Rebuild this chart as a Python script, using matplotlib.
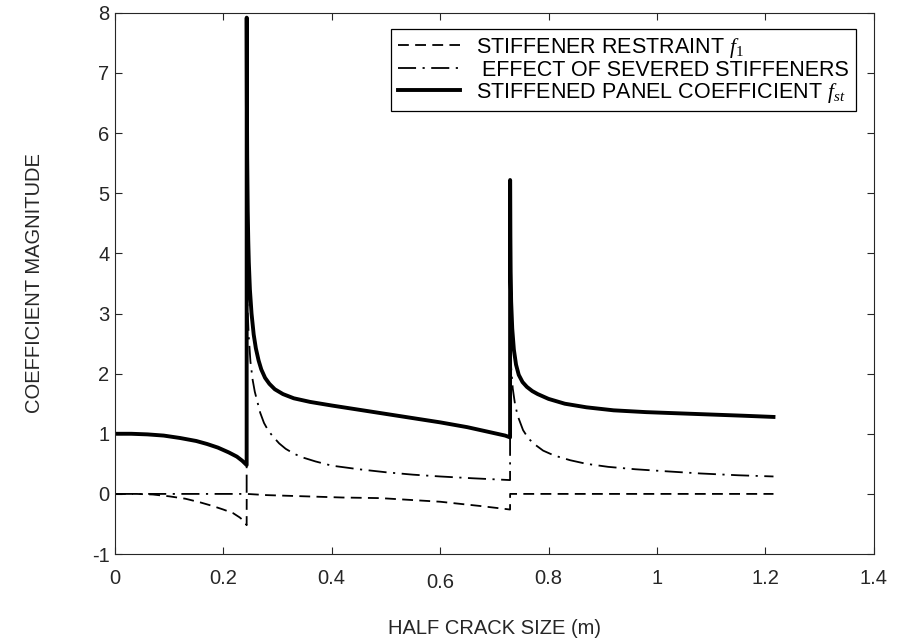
import matplotlib
matplotlib.use('Agg')
import matplotlib.pyplot as plt
import matplotlib.transforms as mtrans

plt.rcParams['font.family'] = ['Liberation Sans', 'DejaVu Sans']
plt.rcParams['mathtext.fontset'] = 'custom'
plt.rcParams['mathtext.it'] = 'Liberation Serif:italic'
plt.rcParams['mathtext.rm'] = 'Liberation Serif'
plt.rcParams['axes.unicode_minus'] = False

# stiffened panel coefficient f_st (solid)
x_st = [0, 0.03, 0.06, 0.09, 0.12, 0.15, 0.17, 0.19, 0.21, 0.225, 0.235, 0.243,
        0.2431, 0.2435, 0.244, 0.245, 0.246, 0.247, 0.249, 0.252, 0.256, 0.26,
        0.265, 0.27, 0.277, 0.285, 0.295, 0.31, 0.33, 0.36, 0.4, 0.45, 0.5,
        0.55, 0.6, 0.65, 0.69, 0.72, 0.729,
        0.7291, 0.7295, 0.730, 0.731, 0.733, 0.736, 0.74, 0.745, 0.752, 0.76,
        0.77, 0.78, 0.8, 0.83, 0.87, 0.92, 0.98, 1.04, 1.1, 1.16, 1.215]
y_st = [1.0, 1.0, 0.99, 0.97, 0.93, 0.88, 0.83, 0.77, 0.69, 0.62, 0.55, 0.48,
        7.92, 6.5, 5.6, 4.7, 4.2, 3.85, 3.4, 3.0, 2.65, 2.42,
        2.22, 2.07, 1.93, 1.83, 1.74, 1.66, 1.59, 1.53, 1.47, 1.40, 1.33,
        1.26, 1.19, 1.11, 1.03, 0.97, 0.94,
        5.22, 4.3, 3.7, 3.2, 2.75, 2.4, 2.15, 1.98, 1.86, 1.78,
        1.71, 1.66, 1.58, 1.50, 1.44, 1.39, 1.36, 1.34, 1.32, 1.30, 1.28]

# effect of severed stiffeners (dash-dot)
x_sev = [0, 0.243, 0.2431, 0.245, 0.247, 0.25, 0.254, 0.258, 0.262, 0.268, 0.275,
         0.283, 0.292, 0.303, 0.315, 0.33, 0.345, 0.37, 0.40, 0.45, 0.5, 0.55,
         0.6, 0.66, 0.729,
         0.7291, 0.731, 0.734, 0.738, 0.743, 0.753, 0.763, 0.775, 0.79, 0.81,
         0.84, 0.87, 0.91, 0.96, 1.01, 1.08, 1.15, 1.215]
y_sev = [0, 0, 3.45, 3.0, 2.6, 2.2, 1.9, 1.7, 1.56, 1.35, 1.18,
         1.05, 0.95, 0.84, 0.75, 0.67, 0.61, 0.54, 0.47, 0.41, 0.36, 0.32,
         0.29, 0.26, 0.23,
         2.6, 2.1, 1.75, 1.5, 1.3, 1.06, 0.92, 0.82, 0.72, 0.64,
         0.56, 0.50, 0.45, 0.41, 0.38, 0.34, 0.31, 0.29]

# stiffener restraint f_1 (dashed)
x_f1 = [0, 0.04, 0.07, 0.1, 0.13, 0.157, 0.18, 0.2, 0.218, 0.23, 0.238, 0.243,
        0.2431, 0.28, 0.35, 0.42, 0.49, 0.6, 0.673, 0.72, 0.729,
        0.7291, 0.8, 1.0, 1.215]
y_f1 = [0, 0, -0.01, -0.04, -0.08, -0.14, -0.2, -0.26, -0.32, -0.39, -0.45, -0.52,
        0.0, -0.02, -0.04, -0.06, -0.07, -0.13, -0.20, -0.25, -0.26,
        0.0, 0, 0, 0]

xticks = [0, 0.2, 0.4, 0.6, 0.8, 1, 1.2, 1.4]
xticklabels = ['0', '0.2', '0.4', '0.6', '0.8', '1', '1.2', '1.4']
yticks = [-1, 0, 1, 2, 3, 4, 5, 6, 7, 8]

fig = plt.figure(figsize=(8.98, 6.42), dpi=100)
ax = fig.add_axes([0.128, 0.137, 0.845, 0.843])

ax.plot(x_f1, y_f1, color='k', lw=1.3, dashes=(6, 3.5),
        label='STIFFENER RESTRAINT $f_1$')
ax.plot(x_sev, y_sev, color='k', lw=1.3, dashes=(10, 3.6, 1.2, 3.6),
        label=' EFFECT OF SEVERED STIFFENERS')
ax.plot(x_st, y_st, color='k', lw=2.8,
        label='STIFFENED PANEL COEFFICIENT $f_{st}$')

ax.set_xlim(0, 1.4)
ax.set_ylim(-1, 8)
ax.set_xticks(xticks)
ax.set_xticklabels(xticklabels)
ax.set_yticks(yticks)

gray = '#262626'
for s in ax.spines.values():
    s.set_color(gray)
    s.set_linewidth(0.8)
ax.tick_params(direction='in', length=5, width=0.8, color=gray, labelcolor=gray,
               labelsize=14.5, top=True, right=True)
ax.tick_params(axis='x', pad=11)
ax.tick_params(axis='y', pad=4)

# the 0.6 label sits a little lower in the original
lab = ax.get_xticklabels()[3]
lab.set_transform(lab.get_transform() + mtrans.ScaledTranslation(0, -4 / 100, fig.dpi_scale_trans))

ax.set_xlabel('HALF CRACK SIZE (m)', fontsize=14.5, color=gray)
ax.set_ylabel('COEFFICIENT MAGNITUDE', fontsize=14.5, color=gray)
ax.xaxis.set_label_coords(0.5, -0.12)
ax.yaxis.set_label_coords(-0.093, 0.5)

leg = ax.legend(loc='upper right', bbox_to_anchor=(0.976, 0.97), borderaxespad=0,
                prop={'size': 15.5}, frameon=True, fancybox=False, framealpha=1,
                edgecolor='k', handlelength=2.9, handletextpad=0.75,
                labelspacing=0.0, borderpad=0.3)
leg.get_frame().set_linewidth(0.9)

plt.savefig('out.png', dpi=100)
